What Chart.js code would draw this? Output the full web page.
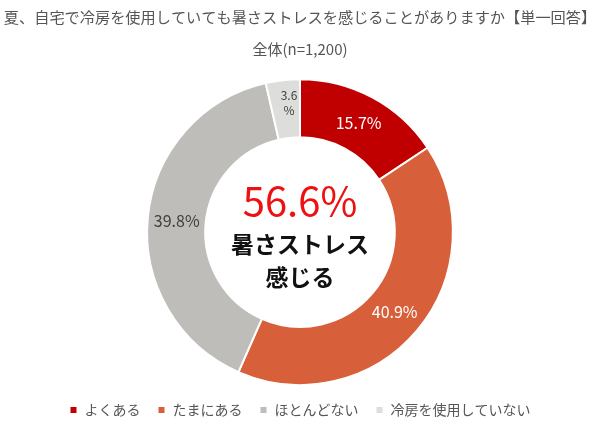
<!DOCTYPE html>
<html>
<head>
<meta charset="utf-8">
<script src="https://cdn.jsdelivr.net/npm/chart.js@4"></script>
<style>
  html, body { margin: 0; padding: 0; background: #fff; }
  #wrap { width: 600px; height: 437px; }
</style>
</head>
<body>
<div id="wrap"><canvas id="myChart"></canvas></div>
<script>
// データ
const categories = ['よくある', 'たまにある', 'ほとんどない', '冷房を使用していない'];
const values = [15.7, 40.9, 39.8, 3.6];
const colors = ['#C00000', '#D7603A', '#BFBDBA', '#DDDDDB'];
const labelColors = ['#ffffff', '#ffffff', '#404040', '#404040'];
const centerValue = '56.6%';
const centerLines = ['暑さストレス', '感じる'];

const JP = '"Noto Sans CJK JP", "Noto Sans", sans-serif';

// 値ラベル
const valueLabels = {
  id: 'valueLabels',
  afterDatasetsDraw(chart) {
    const c = chart.ctx;
    const meta = chart.getDatasetMeta(0);
    c.save();
    c.textAlign = 'center';
    c.textBaseline = 'middle';
    meta.data.forEach((arc, i) => {
      const p = arc.tooltipPosition();
      c.fillStyle = labelColors[i];
      if (values[i] < 5) {
        c.font = '12px ' + JP;
        c.fillText(values[i].toFixed(1), p.x + 3, p.y - 14);
        c.fillText('%', p.x + 3, p.y + 1);
      } else {
        c.font = '16px ' + JP;
        c.fillText(values[i].toFixed(1) + '%', p.x, p.y);
      }
    });
    c.restore();
  }
};

// 中央テキスト
const centerText = {
  id: 'centerText',
  afterDraw(chart) {
    const c = chart.ctx;
    const arc = chart.getDatasetMeta(0).data[0];
    const x = arc.x, y = arc.y;
    c.save();
    c.textAlign = 'center';
    c.textBaseline = 'middle';
    c.fillStyle = '#EE1111';
    c.font = '40px ' + JP;
    c.fillText(centerValue, x, y - 31);
    c.fillStyle = '#111111';
    c.font = 'bold 23px ' + JP;
    c.fillText(centerLines[0], x, y + 12);
    c.fillText(centerLines[1], x, y + 45);
    c.restore();
  }
};

const ctx = document.getElementById('myChart');
new Chart(ctx, {
  type: 'doughnut',
  data: {
    labels: categories,
    datasets: [{
      data: values,
      backgroundColor: colors,
      borderColor: '#ffffff',
      borderWidth: 2
    }]
  },
  options: {
    responsive: true,
    maintainAspectRatio: false,
    animation: false,
    cutout: '62%',
    layout: { padding: { bottom: 10 } },
    plugins: {
      title: {
        display: true,
        text: '夏、自宅で冷房を使用していても暑さストレスを感じることがありますか【単一回答】',
        color: '#555555',
        font: { family: JP, size: 15.2, weight: 'normal' },
        padding: { top: 8, bottom: 14 }
      },
      subtitle: {
        display: true,
        text: '全体(n=1,200)',
        color: '#555555',
        font: { family: JP, size: 15 },
        padding: { top: 0, bottom: 20 }
      },
      legend: {
        position: 'bottom',
        labels: {
          boxWidth: 8,
          boxHeight: 8,
          padding: 17,
          color: '#555555',
          font: { family: JP, size: 14 }
        }
      },
      tooltip: { enabled: false }
    }
  },
  plugins: [valueLabels, centerText]
});
</script>
</body>
</html>
